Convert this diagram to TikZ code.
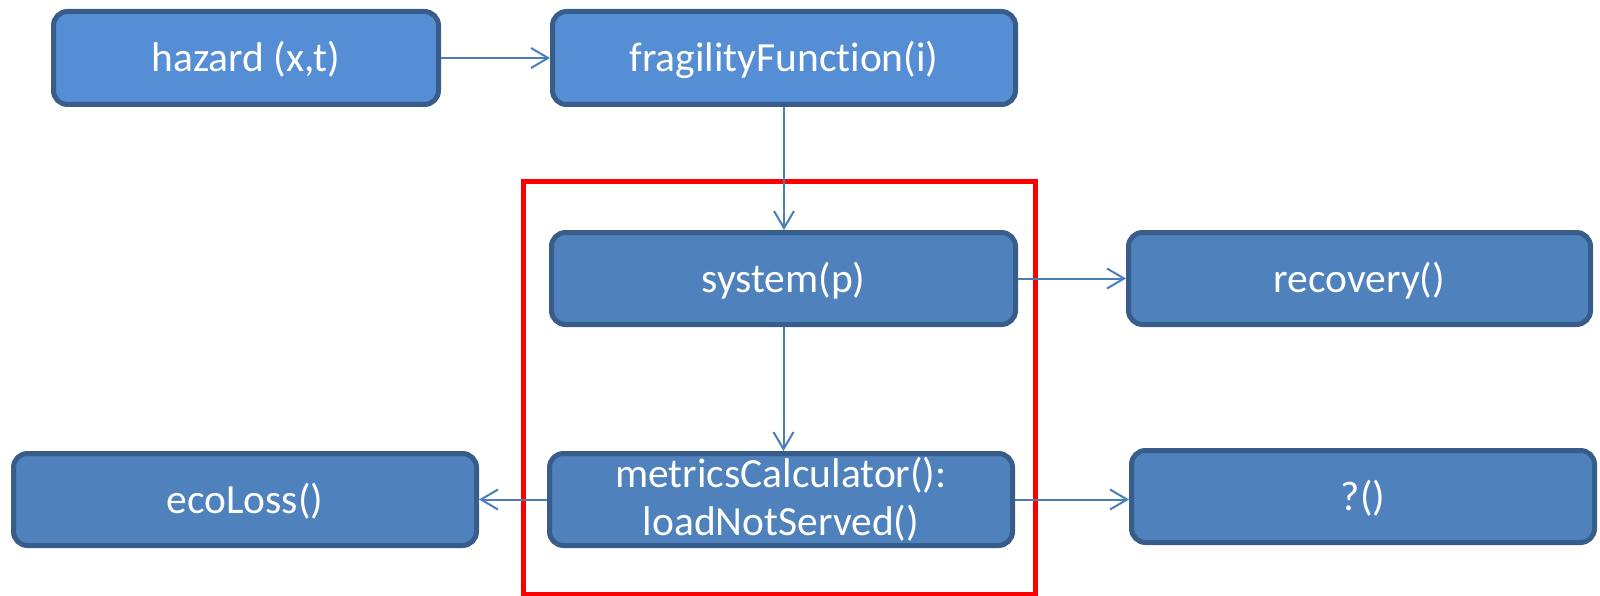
\documentclass[tikz,border=0pt]{standalone}
\usepackage{fontspec}
\setmainfont[Ligatures=NoCommon]{Carlito}
\usetikzlibrary{arrows.meta}
\definecolor{boxlight}{HTML}{558ED5}
\definecolor{boxmain}{HTML}{4F81BD}
\definecolor{boxline}{HTML}{385D8A}
\definecolor{arrowblue}{HTML}{4A7EBB}
\definecolor{groupred}{HTML}{FF0000}
\tikzset{
  box/.style={draw=boxline, line width=5pt, rounded corners=14pt, fill=boxmain,
    text=white, align=center, inner sep=0pt, minimum height=92pt,
    font=\fontsize{41.5}{50}\selectfont},
  oneline/.style={text height=31pt, text depth=3pt},
  toprow/.style={fill=boxlight},
  conn/.style={draw=arrowblue, line width=2pt,
    -{Straight Barb[length=17pt,width=20pt,line width=2pt]}},
  groupbox/.style={draw=groupred, line width=5pt, inner sep=0pt}
}
\begin{document}
\begin{tikzpicture}[x=1pt,y=-1pt]
\useasboundingbox (0,0) rectangle (1600,596);
\node[groupbox, minimum width=511.5pt, minimum height=412.5pt] (group) at (779.25,387.75) {};
\node[box, oneline, toprow, minimum width=385pt, minimum height=93pt] (hazard) at (246,58) {hazard (x,t)};
\node[box, oneline, toprow, minimum width=463pt, minimum height=93pt] (frag) at (784,58) {fragilityFunct\kern0pt ion(i)};
\node[box, oneline, minimum width=464pt] (system) at (783.5,278.5) {system(p)};
\node[box, oneline, minimum width=462pt] (recovery) at (1359.5,278.5) {recovery()};
\node[box, oneline, minimum width=463pt] (eco) at (245,499.5) {ecoLoss()};
\node[box, minimum width=463pt] (metrics) at (781,499.5) {metricsCalculator():\\[-2pt]loadNotServed()};
\node[box, oneline, minimum width=463pt] (qfun) at (1363,496.5) {?()};
\draw[conn] (hazard.east) -- (frag.west);
\draw[conn] (frag.south) -- (frag.south |- system.north);
\draw[conn] (system.east) -- (system.east -| recovery.west);
\draw[conn] (system.south) -- (system.south |- metrics.north);
\draw[conn] (metrics.west) -- (metrics.west -| eco.east);
\draw[conn] (metrics.east) -- (metrics.east -| qfun.west);
\end{tikzpicture}
\end{document}
